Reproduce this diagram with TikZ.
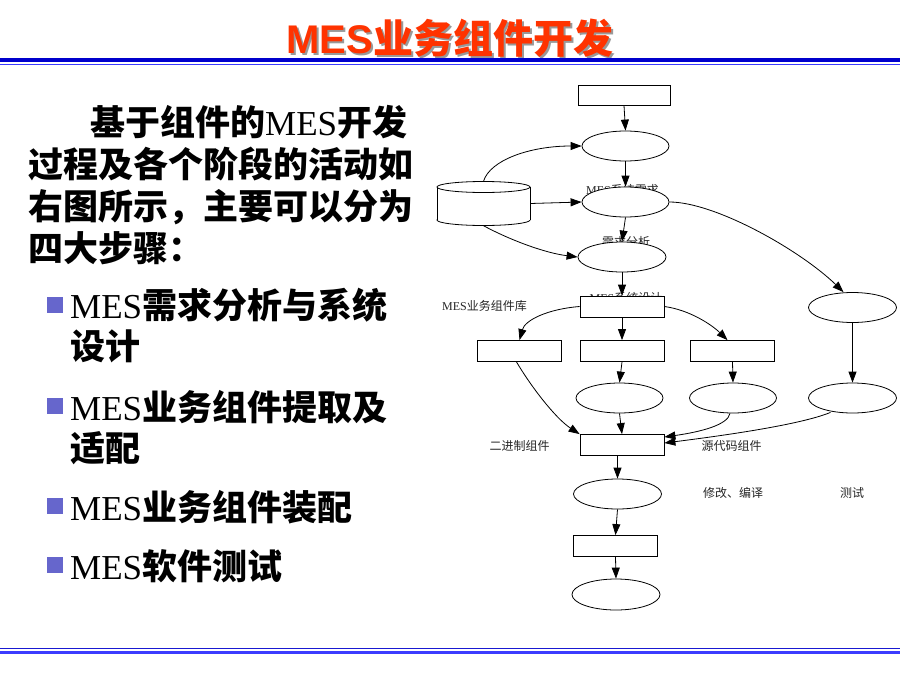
\documentclass[tikz,border=0pt]{standalone}
\usepackage{fontspec}
\setmainfont{Liberation Serif}
\setsansfont{Liberation Sans}
\newfontfamily\cjk{Noto Sans CJK SC}
\usetikzlibrary{arrows.meta,calc,shapes.geometric}
\definecolor{titlered}{RGB}{255,51,0}
\definecolor{bulletblue}{RGB}{102,102,204}
\definecolor{linedark}{RGB}{0,0,204}
\definecolor{linelight}{RGB}{60,60,255}
\newcommand\zh[1]{{\cjk\bfseries #1}}
\newcommand\zhr[1]{{\cjk #1}}
\begin{document}
\begin{tikzpicture}[x=1pt,y=-1pt,
  bigtext/.style={anchor=base west, inner sep=0, font=\fontsize{35}{40}\selectfont},
  bulletsq/.style={fill=bulletblue, minimum size=16, inner sep=0},
  box/.style={draw, fill=white, line width=0.8, minimum width=84, minimum height=21, inner sep=0},
  oval/.style={draw, fill=white, ellipse, line width=0.8, minimum width=87, minimum height=30, inner sep=0},
  arr/.style={-{Triangle[length=11pt,width=8pt]}, line width=0.8},
  lbl/.style={inner sep=0, text=black!85, font=\fontsize{12}{14}\selectfont}
]
\path[use as bounding box, fill=white] (0,0) rectangle (900,675);

% title
\node[anchor=base, inner sep=0, text=black!40, font=\fontsize{40}{44}\selectfont] (titleshadow) at (452,55)
  {{\sffamily\bfseries MES}\zh{业务组件开发}};
\node[anchor=base, inner sep=0, text=titlered, font=\fontsize{40}{44}\selectfont] (title) at (450,53)
  {{\sffamily\bfseries MES}\zh{业务组件开发}};

% rules
\draw[linedark, line width=4] (0,60) -- (900,60);
\draw[linelight, line width=1.5] (0,64.3) -- (900,64.3);
\draw[linedark!90!white, line width=1.4] (0,648.7) -- (900,648.7);
\draw[linelight, line width=2.4] (0,652.5) -- (900,652.5);

% left text
\node[bigtext] (p1) at (90,135) {\zh{基于组件的}MES\zh{开发}};
\node[bigtext] (p2) at (28,177) {\zh{过程及各个阶段的活动如}};
\node[bigtext] (p3) at (28,219) {\zh{右图所示，主要可以分为}};
\node[bigtext] (p4) at (28,261) {\zh{四大步骤：}};

\node[bulletsq] (b1) at (55,305) {};
\node[bigtext] (t1) at (70,318) {MES\zh{需求分析与系统}};
\node[bigtext] (t1b) at (70,359) {\zh{设计}};
\node[bulletsq] (b2) at (55,405.5) {};
\node[bigtext] (t2) at (70,420) {MES\zh{业务组件提取及}};
\node[bigtext] (t2b) at (70,461) {\zh{适配}};
\node[bulletsq] (b3) at (55,505.5) {};
\node[bigtext] (t3) at (70,520) {MES\zh{业务组件装配}};
\node[bulletsq] (b4) at (55,565) {};
\node[bigtext] (t4) at (70,579) {MES\zh{软件测试}};

% diagram labels (some partly hidden by shapes)
\node[lbl] (lreq) at (622.5,190) {MES\zhr{系统需求}};
\node[lbl] (lana) at (626,241.5) {\zhr{需求分析}};
\node[lbl] (ldes) at (626,297.5) {MES\zhr{系统设计}};
\node[lbl] (llib) at (484.5,306) {MES\zhr{业务组件库}};
\node[lbl] (lbin) at (519.5,445.5) {\zhr{二进制组件}};
\node[lbl] (lsrc) at (731.5,445.5) {\zhr{源代码组件}};
\node[lbl] (lmod) at (733,493) {\zhr{修改、编译}};
\node[lbl] (ltst) at (852,493) {\zhr{测试}};

% database cylinder
\node[minimum width=93, minimum height=44, inner sep=0] (db) at (483.5,203.5) {};
\draw[fill=white, line width=0.8] (483.5,220) ellipse [x radius=46.5, y radius=5.5];
\fill[white] (437,187) rectangle (530,220);
\draw[line width=0.8] (437,187) -- (437,220) (530,187) -- (530,220);
\draw[fill=white, line width=0.8] (483.5,187) ellipse [x radius=46.5, y radius=5.5];

% shapes
\node[box, minimum width=92, minimum height=20] (r0) at (624,95) {};
\node[oval] (e1) at (625.5,146) {};
\node[oval] (e2) at (625.5,202) {};
\node[oval, minimum width=88] (e3) at (622,257) {};
\node[box] (r1) at (622,306.5) {};
\node[box] (r2) at (519.5,351) {};
\node[box] (r3) at (622,351) {};
\node[box] (r4) at (732.5,351) {};
\node[oval] (e4) at (619.5,398) {};
\node[oval] (e5) at (733,398) {};
\node[oval, minimum width=88] (e6) at (852.5,307.5) {};
\node[oval, minimum width=88] (e7) at (852.5,398) {};
\node[box] (r5) at (622,445) {};
\node[oval, minimum width=88] (e8) at (617.5,494) {};
\node[box] (r6) at (615.5,546) {};
\node[oval, minimum width=88, minimum height=31] (e9) at (616,594.5) {};

% connectors
\draw[arr] (r0.south) -- (e1.north);
\draw[arr] (e1.south) -- (e2.north);
\draw[arr] (e2.south) -- (e3.north);
\draw[arr] (e3.south) -- (r1.north);
\draw[arr] (db.north) .. controls (490,160) and (530,146) .. (e1.west);
\draw[arr] (db.east) -- (e2.west);
\draw[arr] (db.south) .. controls (510,240) and (545,253) .. (e3.west);
\draw[arr] (e2.east) .. controls (715,202) and (800,250) .. ($(e6.north)+(-9,0)$);
\draw[arr] (r1.west) .. controls (548,309) and (525,320) .. (r2.north);
\draw[arr] (r1.south) -- (r3.north);
\draw[arr] (r1.east) .. controls (690,310) and (712,325) .. ($(r4.north)+(-5,0)$);
\draw[arr] ($(r2.south)+(-3,0)$) .. controls (530,385) and (555,418) .. (r5.north west);
\draw[arr] (r3.south) -- (e4.north);
\draw[arr] (r4.south) -- (e5.north);
\draw[arr] (e4.south) -- (r5.north);
\draw[arr] ($(e5.south)+(-3,0)$) .. controls (728,425) and (700,432) .. ($(r5.east)+(0,-8)$);
\draw[arr] (e6.south) -- (e7.north);
\draw[arr] ($(e7.south)+(-22,-1)$) .. controls (800,425) and (720,436) .. ($(r5.east)+(0,-2)$);
\draw[arr] (e8.north |- r5.south) -- (e8.north);
\draw[arr] (e8.south) -- (r6.north);
\draw[arr] (r6.south) -- (e9.north);
\end{tikzpicture}
\end{document}
